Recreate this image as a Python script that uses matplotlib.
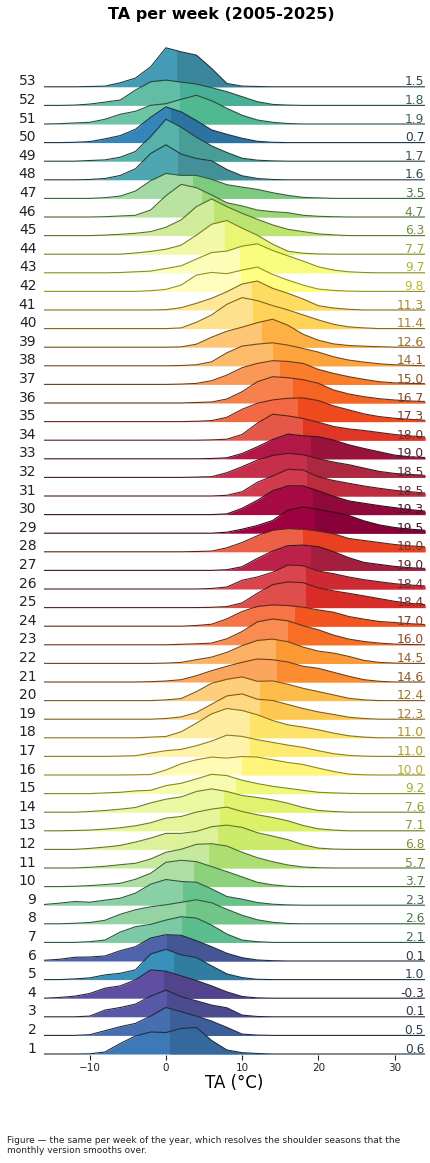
import colorsys

import matplotlib
matplotlib.use("Agg")
import matplotlib.pyplot as plt
import matplotlib.colors as mcolors
from matplotlib.patches import Rectangle
import numpy as np

# temperature grid (°C) the ridge heights were read at
temps = np.arange(-16, 35, 2)

weeks = list(range(1, 54))
week_means = [0.6, 0.5, 0.1, -0.3, 1.0, 0.1, 2.1, 2.6, 2.3, 3.7,
              5.7, 6.8, 7.1, 7.6, 9.2, 10.0, 11.0, 11.0, 12.3, 12.4,
              14.6, 14.5, 16.0, 17.0, 18.4, 18.4, 19.0, 18.0, 19.5, 19.3,
              18.5, 18.5, 19.0, 18.0, 17.3, 16.7, 15.0, 14.1, 12.6, 11.4,
              11.3, 9.8, 9.7, 7.7, 6.3, 4.7, 3.5, 1.6, 1.7, 0.7,
              1.9, 1.8, 1.5]

# ridge heights (density, relative units) per week on the grid above
wk01 = [0, 0, 0, 0.2, 2, 10.5, 18, 22, 21.5, 25.5, 26.5, 13.5, 4, 1.3, 0.5, 0, 0, 0, 0, 0, 0, 0, 0, 0, 0, 0]
wk02 = [0, 0, 0, 0.7, 4.7, 8.7, 12, 19.3, 28, 23.7, 19.3, 14.3, 8, 1.3, 0.3, 0, 0, 0, 0, 0, 0, 0, 0, 0, 0, 0]
wk03 = [0, 0, 0, 0.7, 6.7, 9.3, 12.7, 20.7, 26.7, 20, 16, 11.7, 9, 1.7, 0.3, 0, 0, 0, 0, 0, 0, 0, 0, 0, 0, 0]
wk04 = [0, 0.7, 2, 4.7, 10, 12.3, 18.3, 28.3, 27, 22.3, 17.7, 12.3, 6.3, 1.7, 0.3, 0, 0, 0, 0, 0, 0, 0, 0, 0, 0, 0]
wk05 = [0, 0, 0.7, 1.7, 4.7, 6.3, 9.7, 25.7, 30.3, 24.7, 22, 13.7, 5.7, 2, 0.3, 0, 0, 0, 0, 0, 0, 0, 0, 0, 0, 0]
wk06 = [0.7, 1.7, 3.7, 4, 5, 10.3, 14.3, 23, 26.3, 25.7, 20.3, 14.3, 7.7, 3.3, 1, 0.3, 0, 0, 0, 0, 0, 0, 0, 0, 0, 0]
wk07 = [0, 0, 0, 0.7, 2.3, 10.3, 15.7, 18, 22.3, 25.7, 24.3, 17.3, 8.3, 2.3, 0.7, 0, 0, 0, 0, 0, 0, 0, 0, 0, 0, 0]
wk08 = [0, 0, 0.5, 1.3, 3.5, 9.5, 14, 17, 19, 21.5, 24, 21, 14.5, 8.5, 4, 1.5, 0.3, 0, 0, 0, 0, 0, 0, 0, 0, 0]
wk09 = [0.7, 2, 3.7, 3, 5, 7, 12, 21, 25.7, 23.7, 23, 16.3, 8.7, 6, 2.7, 1, 0.3, 0, 0, 0, 0, 0, 0, 0, 0, 0]
wk10 = [0, 0, 0.3, 1, 2, 3.3, 7.3, 13.3, 24.3, 26.3, 25, 20, 15, 9.7, 4.3, 1.7, 0.3, 0, 0, 0, 0, 0, 0, 0, 0, 0]
wk11 = [0, 0, 0, 0.7, 1.7, 3.3, 4.7, 9, 15.7, 18.7, 23.7, 24.3, 22, 15.7, 10.3, 6.3, 3, 1, 0.3, 0, 0, 0, 0, 0, 0, 0]
wk12 = [0, 0, 0, 1, 2.3, 4, 7.3, 11.3, 16, 16, 18, 22.7, 24.3, 22, 16.7, 13.3, 9.7, 4.7, 1.3, 0.3, 0, 0, 0, 0, 0, 0]
wk13 = [0, 0, 0.3, 0.7, 1.7, 3, 5, 8, 12.7, 14.3, 18.7, 21.7, 23.7, 19.3, 16, 13.3, 10, 5.3, 2, 0.7, 0, 0, 0, 0, 0, 0]
wk14 = [0, 0, 0, 0.7, 1.7, 3, 4.7, 9.3, 13, 15.3, 20.7, 23.3, 20.7, 16.7, 14.7, 12.3, 9, 4.7, 1.7, 0.7, 0, 0, 0, 0, 0, 0]
wk15 = [0, 0, 0, 0, 0.7, 1.3, 2.7, 3.3, 8, 10.3, 14.7, 19.3, 18, 13.3, 10, 7.3, 5.3, 3.3, 1.3, 0.7, 0.2, 0, 0, 0, 0, 0]
wk16 = [0, 0, 0, 0, 0, 0, 0.2, 0.5, 5, 11.2, 15.2, 17.9, 16.9, 18.5, 17.9, 15.2, 12.5, 10.5, 6.9, 3.5, 0.9, 0.2, 0, 0, 0, 0]
wk17 = [0, 0, 0, 0, 0, 0.3, 0.7, 3.3, 5.7, 7, 10.7, 15.3, 21.3, 20, 16.7, 14, 11.3, 9, 5.7, 2.7, 1, 0.3, 0, 0, 0, 0]
wk18 = [0, 0, 0, 0, 0, 0, 0, 0.7, 1.3, 6, 14.7, 24, 29.3, 27.3, 23, 17.3, 13, 10.7, 8, 4.7, 2, 0.7, 0, 0, 0, 0]
wk19 = [0, 0, 0, 0, 0, 0, 0, 0, 0.7, 2.3, 6.7, 15, 23.3, 25.3, 20, 18.7, 14.7, 10.7, 7.3, 4.7, 2, 0.7, 0, 0, 0, 0]
wk20 = [0, 0, 0, 0, 0, 0, 0, 0, 0.7, 2, 9, 17.3, 21.3, 23.7, 19.3, 19.7, 16.3, 12.3, 9, 5.7, 2.3, 0.7, 0, 0, 0, 0]
wk21 = [0, 0, 0, 0, 0, 0, 0, 0.3, 1, 2.3, 6.3, 11.3, 15.7, 19.7, 23, 22.3, 20, 15.7, 13.7, 9.7, 5.7, 2.3, 0.7, 0, 0, 0]
wk22 = [0, 0, 0, 0, 0, 0, 0, 0, 0.3, 1, 3.7, 6.3, 11, 17.7, 23, 24.3, 21.7, 16.3, 12.3, 10.3, 7, 3, 1, 0.3, 0, 0]
wk23 = [0, 0, 0, 0, 0, 0, 0, 0, 0, 0.5, 1, 1.7, 6, 13.3, 23, 25.8, 24, 19, 15, 9.7, 5.7, 3.3, 1.7, 0.7, 0.3, 0]
wk24 = [0, 0, 0, 0, 0, 0, 0, 0, 0, 0, 0.7, 2, 7.3, 14.7, 19.7, 21.3, 20.7, 19, 16.3, 14, 9.7, 7, 4.7, 3.7, 2.5, 1.7]
wk25 = [0, 0, 0, 0, 0, 0, 0, 0, 0, 0, 0, 0.3, 1, 4.7, 14.3, 23, 25.7, 25, 19.7, 16.7, 14.3, 11.7, 9, 6.3, 4.3, 3]
wk26 = [0, 0, 0, 0, 0, 0, 0, 0, 0, 0, 0, 0.5, 2, 8.7, 12, 16.7, 24, 23.3, 18, 15.3, 12, 9.3, 7.3, 5.3, 4, 3]
wk27 = [0, 0, 0, 0, 0, 0, 0, 0, 0, 0, 0, 0, 0.7, 3.7, 12, 19.3, 24.7, 25.3, 23.7, 18.7, 12.7, 8, 6, 4, 2.7, 2]
wk28 = [0, 0, 0, 0, 0, 0, 0, 0, 0, 0, 0.3, 0.7, 4, 9.3, 16, 21.7, 23.3, 22.7, 20.7, 18, 13.3, 11.3, 9.3, 7.3, 6, 5]
wk29 = [0, 0, 0, 0, 0, 0, 0, 0, 0, 0, 0, 0, 1, 4, 7.7, 12.7, 23, 26.3, 23.7, 21, 17.7, 12.3, 8.3, 5.7, 4, 3]
wk30 = [0, 0, 0, 0, 0, 0, 0, 0, 0, 0, 0, 0, 0.7, 6.3, 14.3, 23.7, 28.7, 28.7, 23.7, 18.3, 13.7, 11.3, 9, 7, 5, 3.5]
wk31 = [0, 0, 0, 0, 0, 0, 0, 0, 0, 0, 0, 0, 0.7, 4.3, 13.7, 20, 26.7, 26, 19.3, 15.5, 12.7, 10, 7.7, 5.7, 4.3, 3]
wk32 = [0, 0, 0, 0, 0, 0, 0, 0, 0, 0, 0.3, 0.7, 4.7, 10.7, 17.3, 22, 24, 22.7, 18.7, 15.3, 12.7, 9.3, 6, 4, 3, 2]
wk33 = [0, 0, 0, 0, 0, 0, 0, 0, 0, 0, 0, 0.3, 1, 5.3, 12, 19.3, 24.7, 23, 22, 18.7, 14, 10.3, 7, 3.7, 2, 1.3]
wk34 = [0, 0, 0, 0, 0, 0, 0, 0, 0, 0, 0, 0.3, 1, 5.7, 17, 26, 24.3, 21.7, 18, 13.7, 11.3, 9.7, 7.7, 5.7, 4.3, 3.3]
wk35 = [0, 0, 0, 0, 0, 0, 0, 0, 0, 0, 0.3, 1, 4.3, 12.3, 18.3, 21.7, 23.3, 23.7, 21, 15.7, 11.7, 7.7, 5, 3.3, 2.3, 1.3]
wk36 = [0, 0, 0, 0, 0, 0, 0, 0, 0, 0, 0.5, 1, 4, 11.3, 21.3, 26.3, 25.3, 23.3, 19.7, 13, 9, 6.3, 4.3, 3, 2, 1.5]
wk37 = [0, 0, 0, 0, 0, 0, 0, 0, 0, 0.3, 1, 3.7, 9.3, 16.7, 21, 23.7, 23, 21, 15, 11, 7.7, 5, 2.7, 1.5, 1, 0.7]
wk38 = [0, 0, 0, 0, 0, 0, 0, 0, 0, 0.3, 1, 4, 13, 19.7, 21.7, 23, 20.7, 17.3, 13.7, 9, 5.7, 3.7, 2, 1, 0.5, 0]
wk39 = [0, 0, 0, 0, 0, 0, 0, 0, 0, 0.3, 3, 10, 16, 20, 24.5, 28, 22, 13, 7, 3.3, 1.7, 1, 0.5, 0, 0, 0]
wk40 = [0, 0, 0, 0, 0, 0, 0, 0, 0, 0.7, 6.3, 13.7, 24.3, 31, 28, 23, 18.7, 13.7, 8.7, 4.3, 1.7, 0.7, 0, 0, 0, 0]
wk41 = [0, 0, 0, 0, 0, 0, 0, 0, 0.3, 2.3, 6.7, 11.7, 18.3, 26, 29, 21.7, 16.7, 11, 4.3, 2, 0.7, 0, 0, 0, 0, 0]
wk42 = [0, 0, 0, 0, 0, 0, 0, 0.7, 2, 6.3, 16.3, 19, 17.7, 21.3, 24.3, 17, 11.3, 6.3, 2.3, 1, 0.3, 0, 0, 0, 0, 0]
wk43 = [0, 0, 0, 0, 0, 0.3, 1, 1.7, 4.3, 7, 13.7, 20.3, 21.7, 26.7, 29, 22.3, 17, 11.7, 6, 2.7, 1, 0.3, 0, 0, 0, 0]
wk44 = [0, 0, 0, 0, 0, 0, 1.2, 2.8, 5, 9, 19, 30, 33.7, 26, 19, 10, 3, 1, 0.3, 0, 0, 0, 0, 0, 0, 0]
wk45 = [0, 0, 0, 0, 0.5, 1.3, 2.3, 4, 8.3, 15.7, 29, 36.7, 29, 22.3, 16.3, 10.7, 6.3, 4, 1.7, 0.7, 0, 0, 0, 0, 0, 0]
wk46 = [0, 0, 0, 0, 0.3, 1, 1.7, 7, 21.3, 32.7, 29.3, 22, 14.3, 11, 7, 5.3, 4.3, 1.7, 0.7, 0.3, 0, 0, 0, 0, 0, 0]
wk47 = [0, 0, 0, 0, 0.7, 2.3, 7.3, 17.7, 25, 23, 23, 19, 13.7, 11.3, 9, 5.7, 3, 1, 0.5, 0, 0, 0, 0, 0, 0, 0]
wk48 = [0, 0, 0, 0.3, 1.3, 4.3, 11, 26.3, 35, 25.7, 21.3, 19, 10.3, 4, 1.3, 0.3, 0, 0, 0, 0, 0, 0, 0, 0, 0, 0]
wk49 = [0, 0, 0, 0.7, 1.3, 4, 9.7, 24.7, 42, 34, 24, 15.3, 8.7, 3, 1, 0.3, 0, 0, 0, 0, 0, 0, 0, 0, 0, 0]
wk50 = [0, 0, 0.3, 1, 3.7, 7, 13.3, 25.3, 35.7, 30.7, 22, 12.7, 8.3, 4.3, 1.3, 0.3, 0, 0, 0, 0, 0, 0, 0, 0, 0, 0]
wk51 = [0, 0.3, 1, 1.7, 4.7, 9.7, 12.7, 18.7, 20.3, 24.7, 28.7, 23.3, 15.7, 8.7, 4, 1.7, 0.5, 0, 0, 0, 0, 0, 0, 0, 0, 0]
wk52 = [0, 0, 0.3, 1.3, 3.3, 5.3, 15.3, 23.7, 25.3, 23.3, 21.3, 17.7, 13.7, 8.7, 3.7, 1, 0.3, 0, 0, 0, 0, 0, 0, 0, 0, 0]
wk53 = [0, 0, 0, 0.3, 0.7, 4, 8.7, 20, 39, 35, 31.7, 18.3, 3.3, 0.7, 0.3, 0, 0, 0, 0, 0, 0, 0, 0, 0, 0, 0]

ridges = [wk01, wk02, wk03, wk04, wk05, wk06, wk07, wk08, wk09, wk10,
          wk11, wk12, wk13, wk14, wk15, wk16, wk17, wk18, wk19, wk20,
          wk21, wk22, wk23, wk24, wk25, wk26, wk27, wk28, wk29, wk30,
          wk31, wk32, wk33, wk34, wk35, wk36, wk37, wk38, wk39, wk40,
          wk41, wk42, wk43, wk44, wk45, wk46, wk47, wk48, wk49, wk50,
          wk51, wk52, wk53]
for r in ridges:
    assert len(r) == len(temps)

row = 18.6  # height units per ridge row


def shade(c, light=1.0, sat=1.0):
    r, g, b = mcolors.to_rgb(c)
    h, l, s = colorsys.rgb_to_hls(r, g, b)
    return colorsys.hls_to_rgb(h, min(1, l * light), min(1, s * sat))


W, H = 431, 1163
fig = plt.figure(figsize=(W / 100, H / 100), dpi=100)
ymin, ymax = -0.05, 54.45
ax = fig.add_axes([44 / W, (H - 1054 - 0.05 * row) / H, 381 / W, (ymax - ymin) * row / H])

cmap = plt.get_cmap("Spectral_r")
rank = np.argsort(np.argsort(week_means, kind="stable"), kind="stable")

for i, wk in enumerate(weeks):
    base = i
    top = base + np.array(ridges[i]) / row
    mean = week_means[i]
    c = cmap(rank[i] / (len(weeks) - 1))
    c_dark = shade(c, 0.865)
    edge = shade(c_dark, 0.45, 0.7)
    txt = shade(c_dark, 0.6, 0.6)
    z = 200 - 3 * i

    ax.fill_between(temps, base, top, color=c, lw=0, zorder=z)
    right = ax.fill_between(temps, base, top, color=c_dark, lw=0, zorder=z)
    right.set_clip_path(Rectangle((mean, base - 1), 60, 6, transform=ax.transData))
    ax.plot(temps, top, color=edge, lw=0.8, zorder=z + 1)

    ax.text(-17.0, base + 0.08, str(wk), ha="right", va="baseline",
            fontsize=10, color="#222222", clip_on=False)
    ax.text(33.9, base + 0.08, f"{mean:.1f}", ha="right", va="baseline",
            fontsize=8.8, color=txt, zorder=400)

ax.set_xlim(-16, 34)
ax.set_ylim(ymin, ymax)
ax.set_xticks([-10, 0, 10, 20, 30])
ax.set_yticks([])
ax.tick_params(axis="x", labelsize=7.5, length=3.5, width=0.8, pad=2, colors="#222222")
for s in ax.spines.values():
    s.set_visible(False)

fig.text(221 / W, 1 - 14 / H, "TA per week (2005-2025)", ha="center", va="center",
         fontsize=11.5, fontweight="bold")
fig.text(234.5 / W, 1 - 1083 / H, "TA (°C)", ha="center", va="center", fontsize=12)
fig.text(7 / W, 1 - 1136 / H,
         "Figure — the same per week of the year, which resolves the shoulder seasons that the\n"
         "monthly version smooths over.",
         ha="left", va="top", fontsize=6.5, color="#222222")

fig.savefig("out.png", dpi=100)
